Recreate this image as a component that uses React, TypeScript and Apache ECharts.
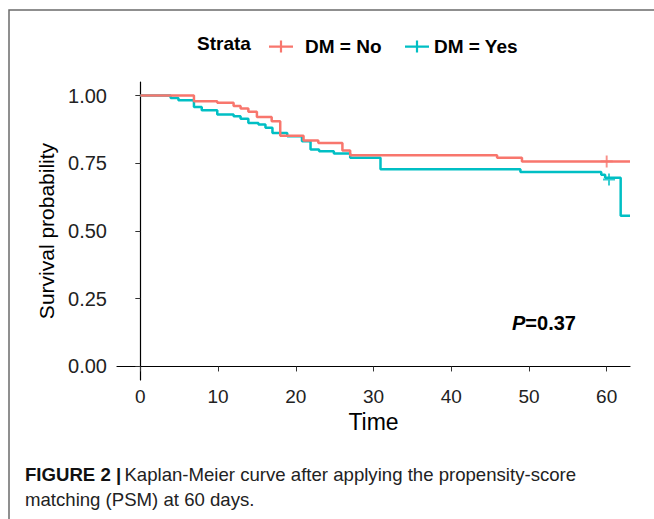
import React, { useEffect, useRef } from "react";
import * as echarts from "echarts";

const timesNo = [0, 6.9, 9.9, 12.0, 12.9, 13.9, 15.0, 16.9, 18.0, 21.0, 22.9, 26.0, 27.0, 45.9, 49.1, 63];
const survNo = [1, 0.979, 0.973, 0.961, 0.952, 0.94, 0.921, 0.905, 0.852, 0.834, 0.825, 0.797, 0.78, 0.77, 0.757, 0.757];

const timesYes = [0, 3.9, 4.9, 6.9, 7.9, 9.9, 12.0, 12.9, 13.9, 15.2, 16.1, 17.0, 18.9, 20.8, 21.9, 23.0, 24.9, 27.0, 30.9, 48.9, 59.3, 59.8, 61.8, 63];
const survYes = [1, 0.991, 0.983, 0.958, 0.946, 0.93, 0.924, 0.914, 0.899, 0.893, 0.881, 0.862, 0.85, 0.831, 0.801, 0.794, 0.786, 0.77, 0.728, 0.718, 0.708, 0.697, 0.556, 0.556];

const censorNoT = [60];
const censorNoS = [0.757];
const censorYesT = [60.3];
const censorYesS = [0.69];

const xTicks = [0, 10, 20, 30, 40, 50, 60];
const yTicks = [0, 0.25, 0.5, 0.75, 1];

const seriesNames = ["DM = No", "DM = Yes"];
const colors = ["#F8766D", "#00BFC4"];

const FONT = "Liberation Sans, Arial, sans-serif";
const PLUS = "path://M4.2,0h1.6v4.2h4.2v1.6h-4.2v4.2h-1.6v-4.2h-4.2v-1.6h4.2z";
const LEGEND_ICON = "path://M0,6h24v2.2H0z M10.9,1h2.2v12h-2.2z";

export default function App() {
  const ref = useRef<HTMLDivElement>(null);
  useEffect(() => {
    const chart = echarts.init(ref.current!, null, { renderer: "svg" });
    const zip = (t: number[], s: number[]) => t.map((v, i) => [v, s[i]]);
    const legendText = (padLeft: number) => ({
      fontFamily: FONT,
      fontWeight: "bold",
      fontSize: 19,
      color: "#000",
      padding: [0, 0, 0, padLeft],
    });
    chart.setOption({
      animation: false,
      backgroundColor: "#ffffff",
      grid: { left: 117, right: 24, top: 82, bottom: 139 },
      legend: [
        {
          left: 264,
          top: 32,
          itemWidth: 24,
          itemHeight: 14,
          data: [{ name: seriesNames[0], icon: LEGEND_ICON }],
          textStyle: legendText(7),
        },
        {
          left: 400,
          top: 32,
          itemWidth: 24,
          itemHeight: 14,
          data: [{ name: seriesNames[1], icon: LEGEND_ICON }],
          textStyle: legendText(0),
        },
      ],
      xAxis: {
        type: "value",
        min: -3,
        max: 63,
        name: "Time",
        nameLocation: "middle",
        nameGap: 30,
        nameTextStyle: { fontFamily: FONT, fontSize: 23, color: "#000" },
        splitLine: { show: false },
        axisLine: { lineStyle: { color: "#000", width: 1.2 } },
        axisTick: { customValues: xTicks, length: 5, lineStyle: { color: "#333" } },
        axisLabel: {
          customValues: xTicks,
          fontFamily: FONT,
          fontSize: 19,
          color: "#222",
          margin: 7,
        },
      },
      yAxis: {
        type: "value",
        min: -0.05,
        max: 1.05,
        name: "Survival probability",
        nameLocation: "middle",
        nameGap: 60,
        nameTextStyle: { fontFamily: FONT, fontSize: 21, color: "#000" },
        splitLine: { show: false },
        axisLine: { show: true, lineStyle: { color: "#000", width: 1.2 } },
        axisTick: { show: true, customValues: yTicks, length: 5, lineStyle: { color: "#333" } },
        axisLabel: {
          customValues: yTicks,
          formatter: (v: number) => v.toFixed(2),
          fontFamily: FONT,
          fontSize: 20,
          color: "#222",
          margin: 10,
        },
      },
      series: [
        {
          name: seriesNames[0],
          type: "line",
          step: "end",
          showSymbol: false,
          data: zip(timesNo, survNo),
          lineStyle: { color: colors[0], width: 2.5 },
          itemStyle: { color: colors[0] },
          z: 3,
        },
        {
          name: seriesNames[1],
          type: "line",
          step: "end",
          showSymbol: false,
          data: zip(timesYes, survYes),
          lineStyle: { color: colors[1], width: 2.5 },
          itemStyle: { color: colors[1] },
          z: 2,
        },
        {
          name: seriesNames[0] + " censor",
          type: "scatter",
          symbol: PLUS,
          symbolSize: 12,
          data: zip(censorNoT, censorNoS),
          itemStyle: { color: colors[0] },
          z: 4,
        },
        {
          name: seriesNames[1] + " censor",
          type: "scatter",
          symbol: PLUS,
          symbolSize: 12,
          data: zip(censorYesT, censorYesS),
          itemStyle: { color: colors[1] },
          z: 4,
        },
      ],
      graphic: [
        {
          type: "rect",
          shape: { x: 9, y: 10, width: 700, height: 600 },
          style: { fill: "none", stroke: "#6b6b6b", lineWidth: 1.5 },
          silent: true,
        },
        {
          type: "text",
          left: 197,
          top: 34,
          style: { text: "Strata", fontFamily: FONT, fontWeight: "bold", fontSize: 19, fill: "#000" },
        },
        {
          type: "text",
          left: 512,
          top: 313,
          style: {
            text: "{i|P}{b|=0.37}",
            rich: {
              i: { fontFamily: FONT, fontWeight: "bold", fontStyle: "italic", fontSize: 20, fill: "#000" },
              b: { fontFamily: FONT, fontWeight: "bold", fontSize: 20, fill: "#000" },
            },
          },
        },
        {
          type: "text",
          left: 25,
          top: 462,
          style: {
            text: "{b|FIGURE 2 |} {n|Kaplan-Meier curve after applying the propensity-score}\n{n|matching (PSM) at 60 days.}",
            lineHeight: 25,
            rich: {
              b: { fontFamily: FONT, fontWeight: "bold", fontSize: 18.6, fill: "#111", lineHeight: 25 },
              n: { fontFamily: FONT, fontSize: 18.6, fill: "#222", lineHeight: 25 },
            },
          },
        },
      ],
    });
    return () => chart.dispose();
  }, []);
  return (
    <div
      ref={ref}
      style={{ position: "fixed", left: 0, top: 0, width: 654, height: 519, background: "#fff" }}
    />
  );
}
